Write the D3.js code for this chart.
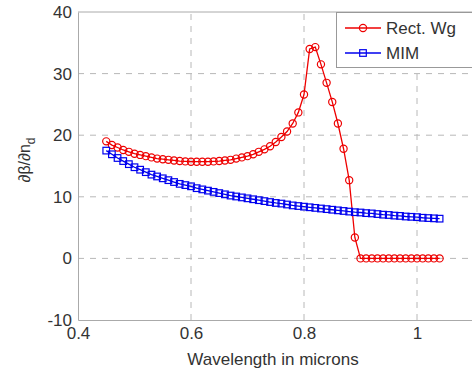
<!DOCTYPE html>
<html>
<head>
<meta charset="utf-8">
<script src="https://cdn.jsdelivr.net/npm/d3@7"></script>
<style>
  body { margin: 0; background: #fff; overflow: hidden; }
  text { font-family: "Liberation Sans", Arial, sans-serif; fill: #333; }
</style>
</head>
<body>
<div id="chart"></div>
<script>
// Wavelength samples (microns)
const wavelengths = [
    0.45, 0.46, 0.47, 0.48, 0.49, 0.50, 0.51, 0.52, 0.53, 0.54,
    0.55, 0.56, 0.57, 0.58, 0.59, 0.60, 0.61, 0.62, 0.63, 0.64,
    0.65, 0.66, 0.67, 0.68, 0.69, 0.70, 0.71, 0.72, 0.73, 0.74,
    0.75, 0.76, 0.77, 0.78, 0.79, 0.80, 0.81, 0.82, 0.83, 0.84,
    0.85, 0.86, 0.87, 0.88, 0.89, 0.90, 0.91, 0.92, 0.93, 0.94,
    0.95, 0.96, 0.97, 0.98, 0.99, 1.00, 1.01, 1.02, 1.03, 1.04
];

// Rectangular waveguide sensitivity
const rectWg = [
    19.0, 18.4, 18.0, 17.6, 17.3, 17.0, 16.8, 16.6, 16.4, 16.2,
    16.1, 16.0, 15.9, 15.8, 15.75, 15.7, 15.7, 15.7, 15.7, 15.75,
    15.8, 15.9, 16.0, 16.2, 16.4, 16.6, 16.9, 17.3, 17.7, 18.2,
    18.9, 19.7, 20.6, 21.9, 23.7, 26.6, 34.0, 34.3, 31.5, 28.5,
    25.4, 21.9, 17.8, 12.7, 3.4, 0, 0, 0, 0, 0,
    0, 0, 0, 0, 0, 0, 0, 0, 0, 0
];

// MIM sensitivity
const mim = [
    17.5, 16.9, 16.3, 15.8, 15.3, 14.8, 14.4, 14.0, 13.6, 13.3,
    13.0, 12.7, 12.4, 12.1, 11.9, 11.7, 11.4, 11.2, 11.0, 10.8,
    10.6, 10.4, 10.2, 10.05, 9.9, 9.75, 9.6, 9.45, 9.3, 9.15,
    9.0, 8.9, 8.75, 8.6, 8.5, 8.4, 8.3, 8.2, 8.1, 8.0,
    7.9, 7.8, 7.7, 7.6, 7.5, 7.45, 7.35, 7.3, 7.2, 7.1,
    7.05, 6.95, 6.9, 6.8, 6.75, 6.7, 6.6, 6.55, 6.5, 6.45
];

const xTicks = [0.4, 0.6, 0.8, 1];
const yTicks = [-10, 0, 10, 20, 30, 40];

const series = [
    {name: "Rect. Wg", values: rectWg, color: "#ee0000", marker: "circle"},
    {name: "MIM", values: mim, color: "#0000ee", marker: "square"}
];

const width = 472, height = 371;
const margin = {top: 12, right: 0, bottom: 51, left: 78};

const svg = d3.select("#chart").append("svg")
    .attr("width", width)
    .attr("height", height);

const x = d3.scaleLinear().domain([0.4, 1.1]).range([margin.left, 473.5]);
const y = d3.scaleLinear().domain([-10, 40]).range([height - margin.bottom, margin.top]);

// Dashed grid
svg.append("g")
    .selectAll("line")
    .data(xTicks.slice(1))
    .enter().append("line")
    .attr("x1", d => x(d)).attr("x2", d => x(d))
    .attr("y1", y(-10)).attr("y2", y(40))
    .attr("stroke", "#b8b8b8")
    .attr("stroke-dasharray", "6,6");

svg.append("g")
    .selectAll("line")
    .data(yTicks.slice(1, -1))
    .enter().append("line")
    .attr("x1", x(0.4)).attr("x2", width)
    .attr("y1", d => y(d)).attr("y2", d => y(d))
    .attr("stroke", "#b8b8b8")
    .attr("stroke-dasharray", "6,6");

// Axes (plain hyphen for negatives, like the original)
const fmt = d => String(d);

const xAxis = svg.append("g")
    .attr("transform", `translate(0,${y(-10)})`)
    .call(d3.axisBottom(x).tickValues(xTicks).tickFormat(fmt).tickSize(0).tickPadding(7));
xAxis.select(".domain").attr("stroke", "#aaa");
xAxis.selectAll("text").style("font-size", "17px").attr("fill", "#333");

const yAxis = svg.append("g")
    .attr("transform", `translate(${x(0.4)},0)`)
    .call(d3.axisLeft(y).tickValues(yTicks).tickFormat(fmt).tickSize(0).tickPadding(6));
yAxis.select(".domain").attr("stroke", "#aaa");
yAxis.selectAll("text").style("font-size", "17px").attr("fill", "#333");

// Top border
svg.append("line")
    .attr("x1", x(0.4)).attr("x2", width)
    .attr("y1", y(40)).attr("y2", y(40))
    .attr("stroke", "#aaa");

// Lines and markers
const line = d3.line()
    .x((d, i) => x(wavelengths[i]))
    .y(d => y(d));

series.forEach(s => {
    svg.append("path")
        .datum(s.values)
        .attr("fill", "none")
        .attr("stroke", s.color)
        .attr("stroke-width", 1.3)
        .attr("d", line);

    const g = svg.append("g");
    if (s.marker === "circle") {
        g.selectAll("circle")
            .data(s.values)
            .enter().append("circle")
            .attr("cx", (d, i) => x(wavelengths[i]))
            .attr("cy", d => y(d))
            .attr("r", 3.6)
            .attr("fill", "none")
            .attr("stroke", s.color)
            .attr("stroke-width", 1.2);
    } else {
        g.selectAll("rect")
            .data(s.values)
            .enter().append("rect")
            .attr("x", (d, i) => x(wavelengths[i]) - 3.3)
            .attr("y", d => y(d) - 3.3)
            .attr("width", 6.6)
            .attr("height", 6.6)
            .attr("fill", "none")
            .attr("stroke", s.color)
            .attr("stroke-width", 1.2);
    }
});

// Legend
const legend = svg.append("g");
legend.append("rect")
    .attr("x", 336.5).attr("y", 12.5)
    .attr("width", 140).attr("height", 55)
    .attr("fill", "#fff")
    .attr("stroke", "#999");

series.forEach((s, i) => {
    const ly = 28 + i * 25;
    legend.append("line")
        .attr("x1", 345).attr("x2", 381)
        .attr("y1", ly).attr("y2", ly)
        .attr("stroke", s.color)
        .attr("stroke-width", 1.3);
    if (s.marker === "circle") {
        legend.append("circle")
            .attr("cx", 363).attr("cy", ly).attr("r", 3.6)
            .attr("fill", "none").attr("stroke", s.color).attr("stroke-width", 1.2);
    } else {
        legend.append("rect")
            .attr("x", 363 - 3.3).attr("y", ly - 3.3)
            .attr("width", 6.6).attr("height", 6.6)
            .attr("fill", "none").attr("stroke", s.color).attr("stroke-width", 1.2);
    }
    legend.append("text")
        .attr("x", 386).attr("y", ly + 6)
        .style("font-size", "17px")
        .text(s.name);
});

// Axis titles
svg.append("text")
    .attr("text-anchor", "middle")
    .attr("x", 273).attr("y", 365)
    .style("font-size", "17px")
    .text("Wavelength in microns");

const yl = svg.append("text")
    .attr("text-anchor", "middle")
    .attr("transform", "translate(30,160) rotate(-90)")
    .style("font-size", "16px")
    .attr("fill", "#444");
yl.append("tspan").text("∂β/∂n");
yl.append("tspan").attr("dy", 5).style("font-size", "12px").text("d");
</script>
</body>
</html>
